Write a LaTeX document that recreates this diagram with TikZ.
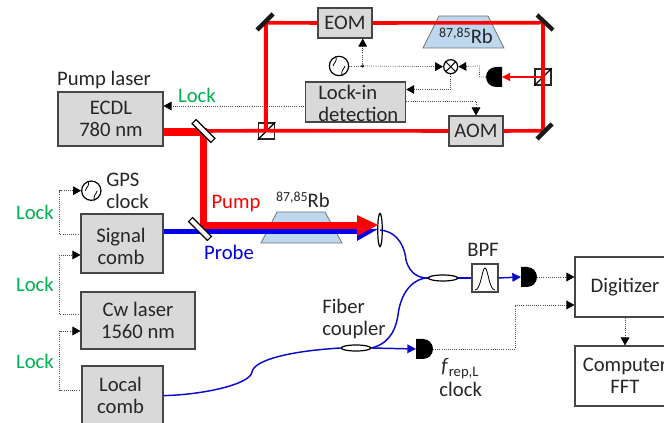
\documentclass[tikz,border=0pt]{standalone}
\usepackage{fontspec}
\setmainfont{Carlito}
\usetikzlibrary{arrows.meta,calc,shapes.geometric}
\definecolor{boxgray}{RGB}{217,217,217}
\definecolor{edgegray}{RGB}{70,70,70}
\definecolor{lockgreen}{RGB}{0,176,80}
\definecolor{rbblue}{RGB}{189,215,238}
\definecolor{beamblue}{RGB}{0,0,235}
\definecolor{fiberblue}{RGB}{10,10,200}
\tikzset{
  every node/.style={font=\fontsize{15.5}{16.5}\selectfont,inner sep=0pt,text=black!85},
  graybox/.style={draw=edgegray,line width=.8pt,fill=boxgray,align=center},
  whitebox/.style={draw=edgegray,line width=.8pt,fill=white,align=center},
  locktext/.style={text=lockgreen},
  ctl/.style={draw=black!70,line width=.6pt,densely dotted},
  ctlarrow/.style={ctl,-{Triangle[length=6pt,width=6.5pt,color=black]}},
  pumpthin/.style={draw=red,line width=2.7pt},
  pumpthick/.style={draw=red,line width=5.6pt},
  probe/.style={draw=beamblue,line width=4.2pt},
  fiber/.style={draw=fiberblue,line width=1.1pt},
  fiberarrow/.style={fiber,-{Triangle[length=6.5pt,width=6.5pt,color=fiberblue]}},
  mirror/.style={draw=black!90,line width=3.2pt},
  splitter/.style={draw=black,line width=.9pt,fill=white,minimum width=20pt,minimum height=4.2pt,rotate=-45},
  cube/.style={draw=black!85,fill=white,line width=1.3pt,minimum size=12pt},
  coupler/.style={draw=black,line width=.9pt,fill=white,ellipse,minimum width=22pt,minimum height=4.5pt},
  osc/.style={draw=black,line width=.9pt,fill=white,circle,minimum size=14.5pt},
  rbcell/.style={draw=black!55,line width=.6pt,fill=rbblue},
}
\newcommand{\oscwave}[1]{\draw[black,line width=.6pt] ($(#1)+(-6,0)$) .. controls ($(#1)+(-4.5,-4.5)$) and ($(#1)+(-1.5,-4.5)$) .. (#1) .. controls ($(#1)+(1.5,4.5)$) and ($(#1)+(4.5,4.5)$) .. ($(#1)+(6,0)$);}
\begin{document}
\begin{tikzpicture}[x=.75pt,y=-.75pt]
\useasboundingbox (0,0) rectangle (664,423);
\clip (0,0) rectangle (664,423);
% Rb cells
\draw[rbcell] (423,48) -- (439,16) -- (488,16) -- (504,48) -- cycle;
\draw[rbcell] (261,243) -- (277,212) -- (325,212) -- (342,243) -- cycle;
% named anchors
\coordinate (tl) at (265.7,22.7);
\coordinate (tr) at (543,22.7);
\coordinate (br) at (543,130.7);
\coordinate (bl) at (265.7,130.7);
\coordinate (bsr) at (543,77);
\coordinate (s1) at (203.5,131);
\coordinate (s2) at (200,229);
\coordinate (corner) at (203.5,226);
\coordinate (tipR) at (378,225);
\coordinate (tipB) at (378,229);
\coordinate (lensc) at (380,230);
\coordinate (m) at (450.7,66.7);
\coordinate (dot) at (362.7,66);
\coordinate (detA) at (502,77);
\coordinate (detAb) at (486,77);
\coordinate (detB) at (521,277);
\coordinate (detBb) at (537,277);
\coordinate (detC) at (416,349);
\coordinate (detCb) at (433,349);
% cubes
\node[cube] (cubeL) at (266.5,131) {};
\node[cube] (cubeR) at (bsr) {};
\draw[black,line width=.9pt] (cubeL.south west) -- (cubeL.north east);
\draw[black,line width=.9pt] (cubeR.south west) -- (cubeR.north east);
% boxes
\node[graybox,minimum width=54pt*.75,minimum height=30pt*.75] (eom) at (345,23) {EOM};
\node[graybox,minimum width=54pt*.75,minimum height=30pt*.75] (aom) at (476,131) {AOM};
\node[graybox,minimum width=105pt*.75,minimum height=54pt*.75] (ecdl) at (110.5,119) {};
\node[align=center] (ecdltxt) at (111,118.5) {ECDL\\780 nm};
\node[graybox,minimum width=82pt*.75,minimum height=59pt*.75] (signal) at (122,243.5) {};
\node[align=center] (signaltxt) at (121,246) {Signal\\comb};
\node[graybox,minimum width=114pt*.75,minimum height=57pt*.75] (cw) at (138,320.5) {Cw laser\\1560 nm};
\node[graybox,minimum width=81pt*.75,minimum height=60pt*.75] (local) at (122.5,396) {};
\node[align=center] (localtxt) at (120.5,395.5) {Local\\comb};
\node[whitebox,minimum width=100pt*.75,minimum height=60pt*.75] (dig) at (625,287) {Digitizer};
\node[whitebox,minimum width=100pt*.75,minimum height=60pt*.75] (comp) at (625,376) {Computer\\FFT};
\node[whitebox,minimum width=26pt*.75,minimum height=28pt*.75] (bpf) at (485,278) {};
\draw[black,line width=.6pt] (475,290) .. controls (481,290) and (482,268) .. (485,268) .. controls (488,268) and (489,290) .. (495,290);
% thin red loop
\draw[pumpthin] (s1) -- (bl) -- (aom.west);
\draw[pumpthin] (aom.east) -- (br) -- (tr) -- (eom.east);
\draw[pumpthin] (eom.west) -- (tl) -- (bl);
% lock-in to pump laser runs beneath the beam, box above it
\draw[ctlarrow] (305.7,106) -- (ecdl.east |- 0,106);
\draw[pumpthin] (tl) -- (bl);
\node[graybox,minimum width=100pt*.75,minimum height=40pt*.75] (lockin) at (355.7,102) {};
\node[anchor=west,align=left] (locktxt) at (318,103) {Lock-in\\detection};
% thick pump
\draw[pumpthick] (ecdl.east |- 0,132) -- (203.5,132) -- (corner) -- (357,226);
% probe
\draw[probe] (signal.east |- 0,231.5) -- (357,231.5);
\fill[beamblue] (357,229) -- (tipB) -- (357,241) -- cycle;
\fill[red] (357,215) -- (tipR) -- (357,236) -- cycle;
% splitters
\node[splitter] (bs1) at (s1) {};
\node[splitter] (bs2) at (s2) {};
% mirrors
\draw[mirror] (257,30) -- (273,14);
\draw[mirror] (537,15) -- (553,30);
\draw[mirror] (537,139) -- (552,124);
% lens
\node[draw=black,line width=.9pt,fill=white,ellipse,minimum width=3.4pt,minimum height=25pt] (lens) at (lensc) {};
% detectors
\fill[black] (502,67) -- (502,87) -- (496,87) arc[start angle=90,end angle=270,x radius=10,y radius=10] -- cycle;
\fill[black] (521,267) -- (521,287) -- (527,287) arc[start angle=90,end angle=-90,x radius=10,y radius=10] -- cycle;
\fill[black] (416,339) -- (416,359) -- (423,359) arc[start angle=90,end angle=-90,x radius=10,y radius=10] -- cycle;
% mixer & oscillators
\node[osc] (osc1) at (339,66) {};
\oscwave{osc1}
\node[osc] (osc2) at (91.3,190.7) {};
\oscwave{osc2}
\node[draw=black,line width=.9pt,fill=white,circle,minimum size=10.5pt] (mix) at (m) {};
\draw[black,line width=.7pt] (mix.north west) -- (mix.south east) (mix.north east) -- (mix.south west);
% control lines
\draw[ctl] (osc1.east) -- (dot);
\fill[black] (dot) circle[radius=1.3pt];
\draw[ctlarrow] (dot) -- (dot |- eom.south);
\draw[ctlarrow] (dot) -- (mix.west);
\draw[ctlarrow] (detAb) -| (479.5,66) -- (mix.east);
\draw[ctlarrow] (mix.south) |- (lockin.east |- 0,89.5);
\draw[ctlarrow] (lockin.east |- 0,101.7) -| (aom.north);
\draw[ctlarrow] (signal.west |- 0,234) -- (59.5,234) -- (59.5,190.7) -- (osc2.west);
\draw[ctlarrow] (cw.west |- 0,314) -- (59.5,314) -- (59.5,255) -- (signal.west |- 0,255);
\draw[ctlarrow] (local.west |- 0,390.7) -- (59.5,390.7) -- (59.5,331) -- (cw.west |- 0,331);
\draw[ctlarrow] (detBb) -- (dig.west |- 0,277);
\draw[ctlarrow] (detCb) -- (515,349) -- (515,305) -- (dig.west |- 0,305);
\draw[ctlarrow] (dig.south) -- (comp.north);
% red probe arrow
\draw[draw=red,line width=.9pt,-{Triangle[length=6pt,width=6pt,color=red]}] (bsr) -- (detA);
% fibers
\node[coupler] (c2) at (443,278) {};
\node[coupler] (c1) at (356,348) {};
\draw[fiber] (lens.center) .. controls (400,232) and (405,250) .. (406,260) .. controls (410,275) and (420,278) .. (c2.west);
\draw[fiber] (c2.west) .. controls (415,278) and (401,290) .. (398,315) .. controls (395,335) and (385,345) .. (c1.east);
\draw[fiber] (local.east |- 0,395.6) .. controls (200,395) and (250,385) .. (252,372) .. controls (254,360) and (290,351) .. (c1.west);
\draw[fiber] (c2.east) -- (bpf.west);
\draw[fiberarrow] (bpf.east) -- (detB);
\draw[fiberarrow] (c1.east) -- (detC);
% labels
\node (t1) at (104,80) {Pump laser};
\node[locktext] (t2) at (197,95) {Lock};
\node[locktext] (t3) at (35,212) {Lock};
\node[locktext] (t4) at (35,284) {Lock};
\node[locktext] (t5) at (35,361) {Lock};
\node[align=left,anchor=west] (t6) at (106,191) {GPS\\clock};
\node[text=red] (t7) at (236,204) {Pump};
\node[text=blue!85!black] (t8) at (229,252) {Probe};
\node[align=left,anchor=west] (t9) at (322,319) {Fiber\\coupler};
\node (t10) at (483,250) {BPF};
\node (t11) at (460,369) {\textit{f}\fontsize{11}{11}\selectfont\raisebox{-3pt}{rep,L}};
\node (t12) at (460.7,389) {clock};
\node (t13) at (466,36) {\raisebox{4pt}{\fontsize{10.4}{11}\selectfont 87,85}Rb};
\node (t14) at (303,200) {\raisebox{4pt}{\fontsize{10.4}{11}\selectfont 87,85}Rb};
\end{tikzpicture}
\end{document}
